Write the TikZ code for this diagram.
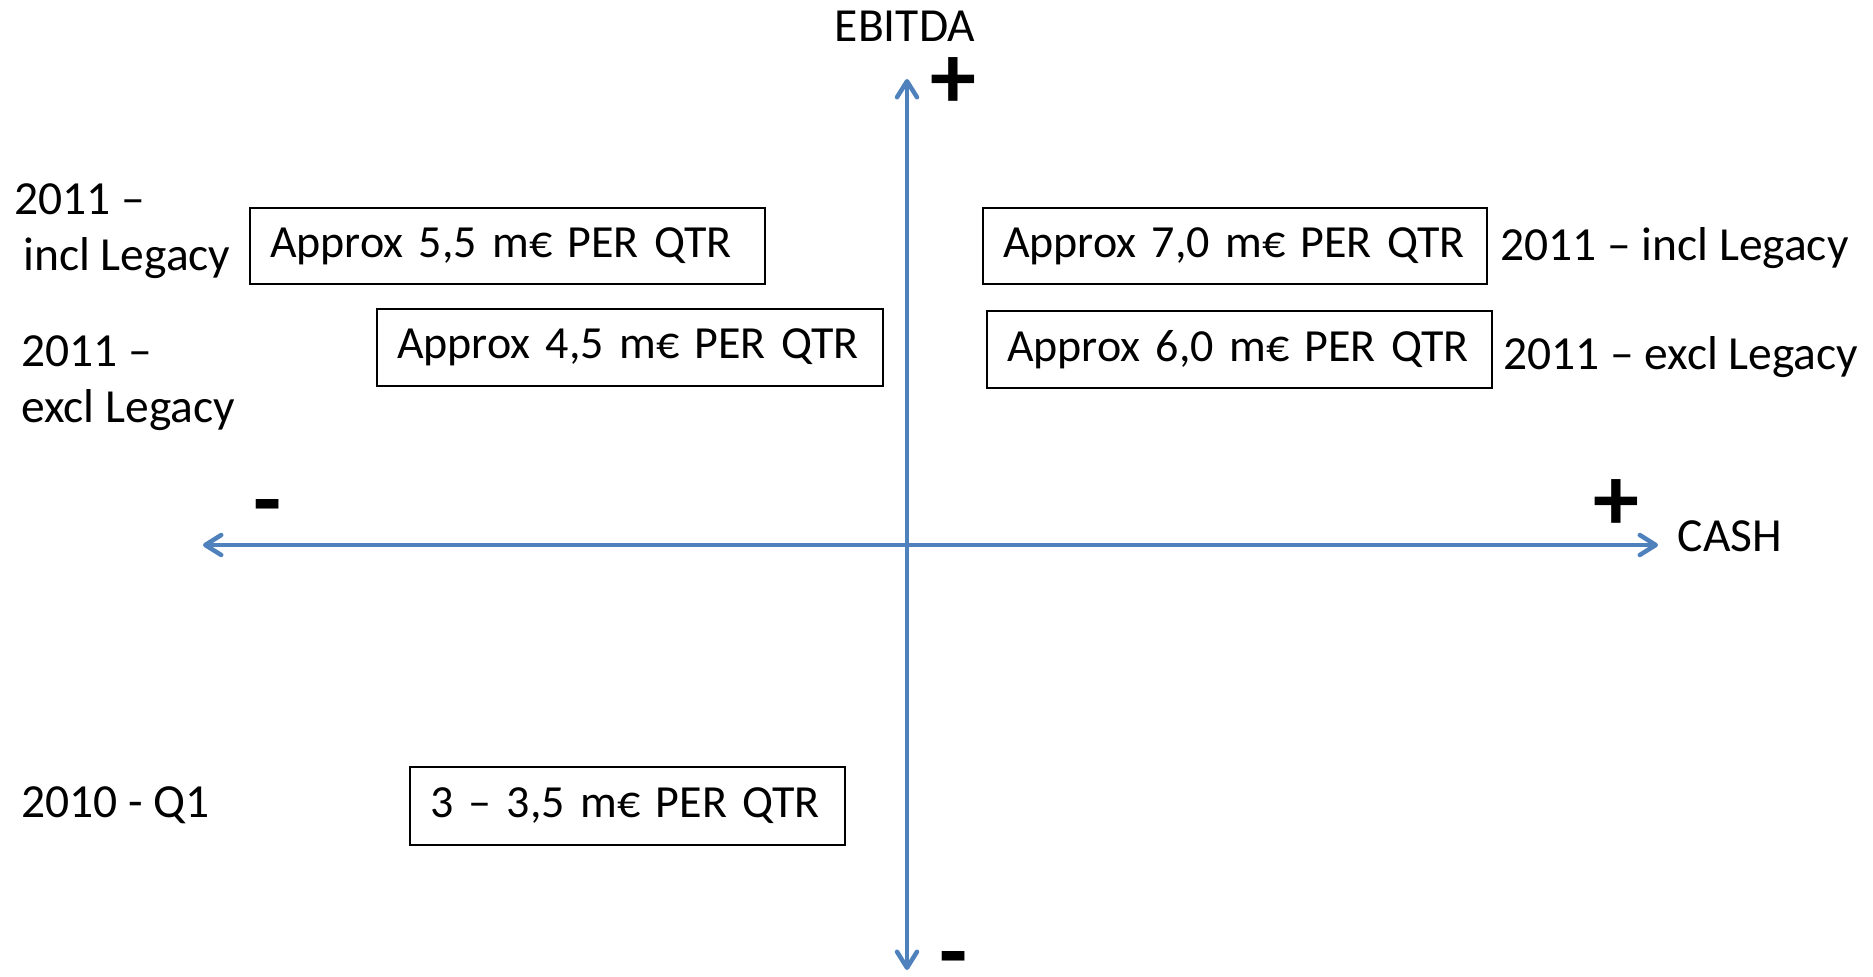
\documentclass[tikz,border=0pt]{standalone}
\usepackage{fontspec}
\setmainfont{Carlito}
\usetikzlibrary{arrows.meta,positioning}
\definecolor{axisblue}{RGB}{79,129,189}
\newcommand{\mainfs}{\fontsize{23.75pt}{28pt}\selectfont}
\newcommand{\boxfs}{\fontsize{23pt}{28pt}\selectfont}
\newcommand{\signfs}{\fontsize{46pt}{50pt}\selectfont}
\newcommand{\minussign}{\raisebox{-14pt}[4pt][0pt]{-}}
\tikzset{
  axisarrow/.style={>={Straight Barb[length=8pt,width=10pt,round]}, <->,
    line width=2.25pt, draw=axisblue},
  qtrbox/.style={rectangle, draw=black, line width=0.7pt, inner xsep=10pt,
    inner ysep=0pt, minimum height=38pt, align=left, font=\boxfs},
  yearlbl/.style={inner sep=0pt, align=left, font=\mainfs},
  axislbl/.style={inner sep=0pt, font=\mainfs},
  sign/.style={inner sep=0pt, font=\signfs\bfseries}
}

\begin{document}
\begin{tikzpicture}[x=0.5pt, y=-0.5pt]
  \useasboundingbox (0,0) rectangle (1873,976);

  % axes
  \coordinate (west) at (203,545);
  \coordinate (east) at (1658,545);
  \coordinate (north) at (907,79);
  \coordinate (south) at (907,970);
  \draw[axisarrow] (west) -- (east);
  \draw[axisarrow] (north) -- (south);

  \node[axislbl] (ebitda) at (905,26) {EBITDA};
  \node[axislbl] (cash) at (1730,536) {CASH};
  \node[sign] (plusN) at (953,83) {+};
  \node[sign] (minusS) at (954,950) {\minussign};
  \node[sign] (minusW) at (268,498) {\minussign};
  \node[sign] (plusE) at (1616,505) {+};

  % quarter boxes
  \node[qtrbox, text width=237.5pt] (inclL) at (507.5,246) {\mbox{Approx 5,5 m€ PER QTR}};
  \node[qtrbox, text width=233pt, minimum height=38.5pt] (exclL) at (630,347.5) {\mbox{Approx 4,5 m€ PER QTR}};
  \node[qtrbox, text width=232pt] (inclR) at (1235,246) {\mbox{Approx 7,0 m€ PER QTR}};
  \node[qtrbox, text width=232.5pt, minimum height=38.5pt] (exclR) at (1239.5,349.5) {\mbox{Approx 6,0 m€ PER QTR}};
  \node[qtrbox, text width=197.5pt, minimum height=39pt] (qone) at (627.5,806) {\mbox{3 -- 3,5 m€ PER QTR}};

  % year labels
  \node[yearlbl, anchor=north west] (yInclL) at (14,183) {2011 --\\\hspace{4.5pt}incl Legacy};
  \node[yearlbl, anchor=north west] (yExclL) at (21,335) {2011 --\\excl Legacy};
  \node[yearlbl, anchor=north west] (yQone) at (21,786) {2010 - Q1};
  \node[yearlbl, right=6pt of inclR, yshift=-1.2pt] (yInclR) {2011 -- incl Legacy};
  \node[yearlbl, right=5pt of exclR, yshift=-3.8pt] (yExclR) {2011 -- excl Legacy};
\end{tikzpicture}
\end{document}
